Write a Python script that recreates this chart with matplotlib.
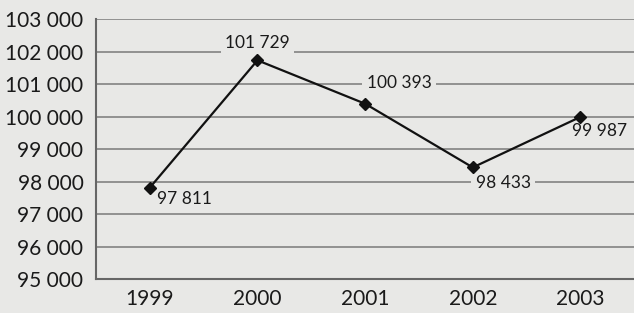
import matplotlib

matplotlib.use("Agg")
import matplotlib.pyplot as plt

years = ["1999", "2000", "2001", "2002", "2003"]
values = [97811, 101729, 100393, 98433, 99987]
y_ticks = [95000, 96000, 97000, 98000, 99000, 100000, 101000, 102000, 103000]
# label offsets in points relative to each point, plus alignment
label_offsets = [(5.5, -8, "left"), (0, 12.5, "center"), (1, 15, "left"),
                 (2, -11, "left"), (-6, -10, "left")]

bg = "#e8e8e6"
plt.rcParams["font.family"] = ["Lato", "DejaVu Sans"]

fig = plt.figure(figsize=(6.34, 3.13), dpi=100, facecolor=bg)
ax = fig.add_axes([0.1514, 0.1086, 0.849, 0.8307], facecolor=bg)

x = list(range(len(years)))
ax.set_xlim(-0.5, len(years) - 0.5)
ax.set_ylim(y_ticks[0], y_ticks[-1])

for t in y_ticks[1:]:
    ax.axhline(t, color="#8a8a8a", linewidth=1.3, zorder=1)

ax.plot(x, values, color="#111111", linewidth=1.6, marker="D", markersize=6,
        zorder=3)

# labels sit above the gridlines but under the line and markers
for xi, v, (dx, dy, ha) in zip(x, values, label_offsets):
    label = f"{v:,}".replace(",", " ")
    ax.annotate(label, (xi, v), xytext=(dx, dy), textcoords="offset points",
                ha=ha, va="center", fontsize=12.5, color="#1a1a1a", zorder=2,
                bbox=dict(boxstyle="square,pad=0.25", fc=bg, ec="none"))

ax.set_yticks(y_ticks)
ax.set_yticklabels([f"{t:,}".replace(",", " ") for t in y_ticks])
ax.set_xticks(x)
ax.set_xticklabels(years)
ax.tick_params(axis="both", length=0, labelsize=15, colors="#1a1a1a")
ax.tick_params(axis="y", pad=9)
ax.tick_params(axis="x", pad=7)

for side in ["top", "right"]:
    ax.spines[side].set_visible(False)
for side in ["left", "bottom"]:
    ax.spines[side].set_color("#666666")
    ax.spines[side].set_linewidth(1.5)

fig.savefig("out.png", dpi=100, facecolor=bg)
